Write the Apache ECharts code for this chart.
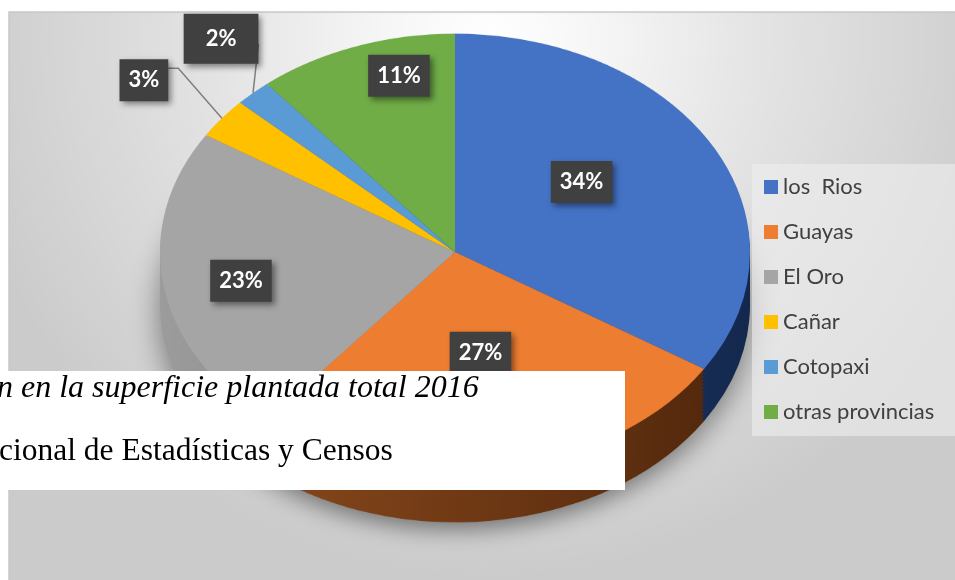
<!DOCTYPE html>
<html>
<head>
<meta charset="utf-8">
<script src="https://cdn.jsdelivr.net/npm/echarts@6/dist/echarts.min.js"></script>
<style>
body{margin:0;background:#fff;}
#caja{position:relative;width:955px;height:580px;overflow:hidden;}
#pie{position:absolute;left:0;top:0;width:955px;height:784px;transform:scaleY(0.74);transform-origin:0 0;}
#frente{position:absolute;left:0;top:0;width:955px;height:580px;}
</style>
</head>
<body>
<div id="caja"><div id="pie"></div><div id="frente"></div></div>
<script>
// datos
var provincias = ['los  Rios', 'Guayas', 'El Oro', 'Cañar', 'Cotopaxi', 'otras provincias'];
var porcentajes = [34, 27, 23, 3, 2, 11];
var colores = ['#4472C4', '#ED7D31', '#A5A5A5', '#FFC000', '#5B9BD5', '#70AD47'];
var ladoIni = ['#24427a', '#86471b', '#9c9c9c', '#a07a00', '#3a6e9c', '#4a7a2e'];
var ladoFin = ['#14284d', '#55290d', '#7c7c7c', '#6f5400', '#254c70', '#2f521c'];

// geometria del pastel (inclinado)
var cx = 455, cy = 252, k = 0.74, R = 295, grosor = 52, vertice = 235;

function datos(cols) {
	return provincias.map(function (n, i) {
		return {name: n, value: porcentajes[i], itemStyle: {color: cols[i]}};
	});
}

//pastel aplastado con CSS (cara superior + lados)
var pieChart = echarts.init(document.getElementById('pie'));
var series = [];
var capas = 14;
var lados = provincias.map(function (n, i) {
	return new echarts.graphic.LinearGradient(0, 0, 1, 0, [
		{offset: 0, color: ladoIni[i]}, {offset: 1, color: ladoFin[i]}
	]);
});
for (var j = capas; j >= 1; j--) {
	var s = {
		type: 'pie', silent: true, animation: false,
		center: [cx, (cy + grosor * j / capas) / k], radius: R,
		startAngle: 90, clockwise: true,
		label: {show: false}, labelLine: {show: false},
		itemStyle: {borderWidth: 0},
		data: datos(lados)
	};
	if (j == capas) {
		s.itemStyle = {borderWidth: 0, shadowBlur: 30, shadowColor: 'rgba(0,0,0,0.45)', shadowOffsetY: 10};
	}
	series.push(s);
}
series.push({
	type: 'pie', silent: true, animation: false,
	center: [cx, cy / k], radius: R, startAngle: 90, clockwise: true,
	label: {show: false}, labelLine: {show: false},
	itemStyle: {borderWidth: 0},
	data: datos(colores)
});
pieChart.setOption({
	animation: false,
	graphic: [{
		type: 'rect', silent: true, z: -10, scaleY: 1 / k,
		shape: {x: 9, y: 12, width: 960, height: 600},
		style: {
			fill: {type: 'radial', x: 0.5, y: 0.05, r: 0.9, colorStops: [
				{offset: 0, color: '#ffffff'}, {offset: 0.2, color: '#f6f6f6'},
				{offset: 0.5, color: '#e4e4e4'}, {offset: 0.8, color: '#d5d5d5'},
				{offset: 1, color: '#cbcbcb'}]},
			stroke: '#c8c8c8', lineWidth: 1.5
		}
	}],
	series: series
});

// etiquetas, leyenda y texto encima
var factorXY = [[0.96, 0.99], [1.08, 1.07], [1.44, 2.63], null, null, [1.1, 1.52]];
var salida = {3: [-78, -38, -12, 10], 4: [-32, -54, 5, 0]};

var frente = echarts.init(document.getElementById('frente'));
frente.setOption({
	animation: false,
	legend: {
		orient: 'vertical', left: 752, top: 164,
		padding: [12, 30, 13, 12], itemGap: 23, itemWidth: 14, itemHeight: 14,
		icon: 'rect', selectedMode: false,
		backgroundColor: 'rgba(238,238,238,0.6)',
		textStyle: {fontFamily: 'Lato', fontSize: 22, color: '#404040', lineHeight: 22},
		data: provincias.map(function (n, i) {
			return {name: n, itemStyle: {color: colores[i], opacity: 1}};
		})
	},
	graphic: [
		{type: 'rect', z: 50, shape: {x: 0, y: 371, width: 625, height: 119}, style: {fill: '#fff'}},
		{type: 'text', z: 51, x: -3, y: 389, style: {text: 'n en la superficie plantada total 2016',
			font: 'italic 32px "Liberation Serif"', fill: '#000', verticalAlign: 'middle'}},
		{type: 'text', z: 51, x: -1, y: 452, style: {text: 'cional de Estadísticas y Censos',
			font: '31.5px "Liberation Serif"', fill: '#000', verticalAlign: 'middle'}}
	],
	series: [{
		type: 'pie', silent: true, avoidLabelOverlap: false,
		center: [cx, cy], radius: R, startAngle: 90, clockwise: true,
		itemStyle: {color: 'rgba(0,0,0,0)', borderWidth: 0},
		label: {
			show: true, position: 'inside',
			formatter: function (p) { return p.value + '%'; },
			color: '#fff', fontFamily: 'Lato', fontWeight: 'bold', fontSize: 22, lineHeight: 22,
			backgroundColor: '#404040', padding: [10, 9],
			shadowColor: 'rgba(0,0,0,0.45)', shadowBlur: 6, shadowOffsetX: 3, shadowOffsetY: 3
		},
		labelLine: {show: false},
		labelLayout: function (p) {
			var r = p.labelRect, i = p.dataIndex;
			var mx = r.x + r.width / 2, my = r.y + r.height / 2;
			if (factorXY[i]) {
				return {
					x: cx + (mx - cx) * factorXY[i][0],
					y: vertice + (my - cy) * k * factorXY[i][1],
					align: 'center', verticalAlign: 'middle'
				};
			}
			var b = p.labelLinePoints[0];
			var e = [b[0], cy + (b[1] - cy) * k];
			var o = salida[i];
			var c = [e[0] + o[0], e[1] + o[1]];
			var fin = [c[0] + r.width / 2, c[1] + o[2]];
			var codo = [fin[0] + o[3], fin[1]];
			return {x: c[0], y: c[1], align: 'center', verticalAlign: 'middle', labelLinePoints: [e, codo, fin]};
		},
		data: provincias.map(function (n, i) {
			var d = {name: n, value: porcentajes[i], itemStyle: {color: 'rgba(0,0,0,0)'}};
			if (salida[i]) {
				d.label = {position: 'outside'};
				d.labelLine = {show: true, length: 15, length2: 10, lineStyle: {color: '#7f7f7f', width: 1.5}};
				if (i == 4) d.label.padding = [14, 22];
			}
			return d;
		})
	}]
});
</script>
</body>
</html>
